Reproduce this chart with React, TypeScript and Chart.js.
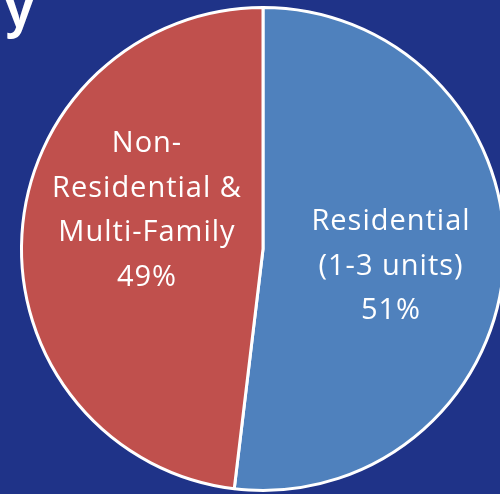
import React, { useEffect, useRef } from "react";
import { Chart, registerables } from "chart.js";

Chart.register(...registerables);

const categories = ["Residential (1-3 units)", "Non-Residential & Multi-Family"];
const shareValues = [51.9, 48.1];
const percentLabels = ["51%", "49%"];
const labelLines = [
  ["Residential", "(1-3 units)"],
  ["Non-", "Residential &", "Multi-Family"],
];
const sliceColors = ["#4F81BD", "#C0504D"];
const titleFragment = "cy";

// label anchor offsets from pie centre (x centre, first baseline)
const labelOffsets = [
  { dx: 128, dy: -19 },
  { dx: -116, dy: -97 },
];
const LINE_H = 44.5;
const LABEL_FONT = "29px 'Open Sans'";

const labelPlugin = {
  id: "sliceLabels",
  afterDatasetsDraw(chart: any) {
    const ctx = chart.ctx;
    const meta = chart.getDatasetMeta(0);
    ctx.save();
    ctx.fillStyle = "#FFFFFF";
    ctx.font = LABEL_FONT;
    ctx.textAlign = "center";
    ctx.textBaseline = "alphabetic";
    (ctx as any).letterSpacing = "1px";
    meta.data.forEach((arc: any, i: number) => {
      const lines = [...labelLines[i], percentLabels[i]];
      const x = arc.x + labelOffsets[i].dx;
      const y0 = arc.y + labelOffsets[i].dy;
      lines.forEach((ln, k) => ctx.fillText(ln, x, y0 + k * LINE_H));
    });
    ctx.restore();
  },
};

export default function App() {
  const ref = useRef<HTMLCanvasElement>(null);
  useEffect(() => {
    document.body.style.margin = "0";
    const chart = new Chart(ref.current!, {
      type: "pie",
      data: {
        labels: categories,
        datasets: [
          {
            data: shareValues,
            backgroundColor: sliceColors,
            borderColor: "#FFFFFF",
            borderWidth: 3,
          },
        ],
      },
      options: {
        responsive: false,
        animation: false,
        devicePixelRatio: 1,
        layout: { padding: { left: 20, top: 6, right: 20, bottom: 6 } },
        plugins: {
          legend: { display: false },
          tooltip: { enabled: false },
        },
      },
      plugins: [labelPlugin],
    });
    return () => chart.destroy();
  }, []);
  return (
    <div
      style={{
        position: "fixed",
        left: 0,
        top: 0,
        width: 500,
        height: 494,
        overflow: "hidden",
        background: "#1F3388",
      }}
    >
      <canvas
        ref={ref}
        width={526}
        height={498}
        style={{ position: "absolute", left: 0, top: 0, display: "block" }}
      />
      <div
        style={{
          position: "absolute",
          right: 462,
          top: -24,
          color: "#FFFFFF",
          font: "bold 48px 'Open Sans'",
          letterSpacing: "5px",
          lineHeight: "normal",
          whiteSpace: "nowrap",
        }}
      >
        {titleFragment}
      </div>
    </div>
  );
}
